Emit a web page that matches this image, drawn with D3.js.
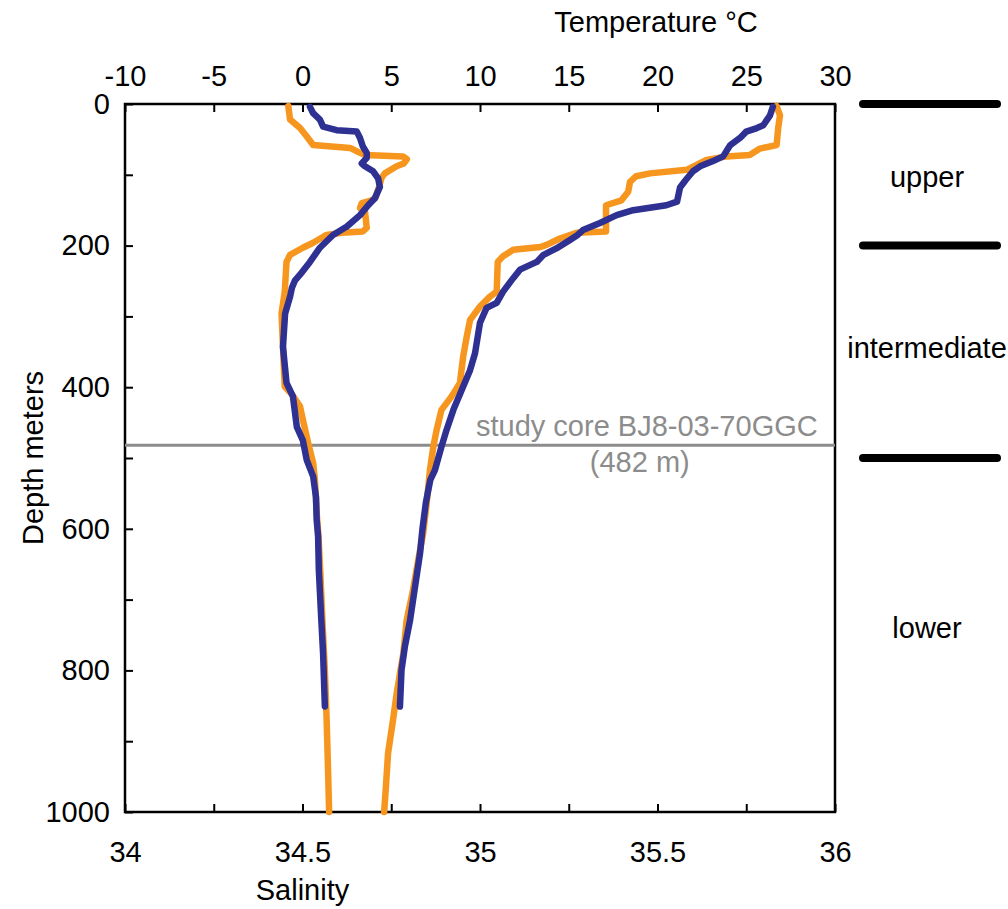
<!DOCTYPE html>
<meta charset="utf-8">
<style>
    body { margin: 0; background: #fff; }
    text { font-family: "Liberation Sans", Arial, sans-serif; }
    .axis text { font-size: 29px; fill: #000; }
    .axis line { stroke: #000; stroke-width: 2; }
    .axis path { display: none; }
    .profile { fill: none; stroke-width: 6.5; stroke-linejoin: round; stroke-linecap: round; }
    .label { font-size: 29px; fill: #000; }
    .core { font-size: 29px; fill: #8c8c8c; }
</style>
<body>
<script src="https://cdn.jsdelivr.net/npm/d3@7/dist/d3.min.js"></script>
<script>
    // [depth m, salinity]
    var salinityOrange = [[3, 34.460], [22, 34.465], [34, 34.493], [46, 34.512], [58, 34.530], [62, 34.634],
        [69, 34.662], [72, 34.676], [74, 34.783], [78, 34.794], [84, 34.785], [88, 34.765], [98, 34.732],
        [104, 34.723], [118, 34.715], [133, 34.705], [137, 34.690], [140, 34.667], [147, 34.662], [152, 34.676],
        [175, 34.681], [180, 34.670], [182, 34.611], [185, 34.567], [196, 34.530], [203, 34.501], [213, 34.465],
        [223, 34.455], [265, 34.450], [296, 34.441], [343, 34.445], [399, 34.450], [410, 34.470], [427, 34.493],
        [446, 34.501], [479, 34.516], [507, 34.530], [531, 34.535], [578, 34.540], [611, 34.545], [660, 34.550],
        [729, 34.556], [800, 34.563], [870, 34.568], [941, 34.572], [1000, 34.575]];
    var salinityBlue = [[4, 34.521], [13, 34.530], [22, 34.549], [32, 34.558], [37, 34.596], [39, 34.653],
        [48, 34.662], [60, 34.670], [69, 34.681], [76, 34.681], [84, 34.667], [88, 34.676], [95, 34.699],
        [105, 34.713], [117, 34.718], [133, 34.704], [143, 34.685], [157, 34.662], [173, 34.625], [185, 34.586],
        [203, 34.549], [223, 34.521], [241, 34.493], [249, 34.479], [260, 34.470], [272, 34.465], [296, 34.451],
        [343, 34.445], [394, 34.455], [413, 34.473], [456, 34.484], [475, 34.501], [503, 34.512], [526, 34.530],
        [555, 34.538], [588, 34.540], [611, 34.544], [658, 34.546], [729, 34.553], [776, 34.558], [851, 34.563]];

    // [depth m, temperature °C]
    var tempOrange = [[3, 26.71], [16, 26.9], [34, 26.8], [58, 26.71], [63, 25.77], [72, 25.2], [74, 23.9],
        [79, 22.76], [86, 22.2], [93, 21.64], [98, 19.58], [102, 18.8], [110, 18.45], [124, 18.35], [136, 17.97],
        [143, 17.1], [180, 17.1], [182, 15.44], [190, 14.5], [199, 13.75], [202, 13.4], [206, 11.87], [215, 11.3],
        [223, 11.0], [265, 10.94], [272, 10.56], [286, 10.0], [305, 9.44], [329, 9.25], [357, 9.05], [394, 8.87],
        [413, 8.4], [432, 7.83], [460, 7.56], [484, 7.37], [517, 7.18], [563, 7.0], [606, 6.8], [640, 6.55],
        [690, 6.2], [729, 5.87], [776, 5.68], [832, 5.31], [870, 5.1], [917, 4.82], [964, 4.7], [1000, 4.6]];
    var tempBlue = [[4, 26.5], [16, 26.34], [30, 25.96], [34, 25.6], [39, 25.0], [48, 24.65], [58, 24.1],
        [74, 23.7], [81, 23.1], [88, 22.4], [95, 22.0], [107, 21.6], [118, 21.27], [138, 21.1], [143, 20.5],
        [150, 18.63], [157, 17.7], [168, 16.76], [178, 15.8], [185, 15.5], [192, 15.07], [204, 14.3], [213, 13.58],
        [223, 13.2], [234, 12.25], [246, 11.87], [265, 11.3], [281, 10.94], [288, 10.37], [309, 10.0], [352, 9.72],
        [376, 9.44], [404, 8.97], [432, 8.5], [460, 8.12], [484, 7.83], [517, 7.46], [531, 7.2], [563, 6.95],
        [602, 6.75], [635, 6.62], [682, 6.34], [729, 6.06], [766, 5.77], [799, 5.58], [851, 5.49]];

    var tempTicks = [-10, -5, 0, 5, 10, 15, 20, 25, 30];
    var salTicks = [34, 34.25, 34.5, 34.75, 35, 35.25, 35.5, 35.75, 36];
    var salLabels = [34, 34.5, 35, 35.5, 36];
    var depthTicks = [0, 100, 200, 300, 400, 500, 600, 700, 800, 900, 1000];
    var depthLabels = [0, 200, 400, 600, 800, 1000];

    var zoneBounds = [0, 200, 500];
    var zoneNames = ["upper", "intermediate", "lower"];
    var zoneLabelDepth = [117, 359, 754];
    var coreDepth = 482;

    var margin = {top: 104, left: 125},
        width = 710, height = 708;

    var svg = d3.select("body").append("svg")
        .attr("width", 1008)
        .attr("height", 909);

    var g = svg.append("g")
        .attr("transform", "translate(" + margin.left + "," + margin.top + ")");

    var y = d3.scaleLinear().domain([0, 1000]).range([0, height]);
    var xTemp = d3.scaleLinear().domain([-10, 30]).range([0, width]);
    var xSal = d3.scaleLinear().domain([34, 36]).range([0, width]);

    // axes, ticks pointing inward, plain hyphen for negatives
    g.append("g").attr("class", "axis")
        .call(d3.axisTop(xTemp).tickValues(tempTicks).tickSize(-8).tickPadding(18)
            .tickFormat(function(d) { return String(d); }));

    g.append("g").attr("class", "axis")
        .attr("transform", "translate(0," + height + ")")
        .call(d3.axisBottom(xSal).tickValues(salTicks).tickSize(-8).tickPadding(29)
            .tickFormat(function(d) { return salLabels.indexOf(d) >= 0 ? String(d) : ""; }));

    g.append("g").attr("class", "axis")
        .call(d3.axisLeft(y).tickValues(depthTicks).tickSize(-8).tickPadding(15)
            .tickFormat(function(d) { return depthLabels.indexOf(d) >= 0 ? d : ""; }));

    g.append("rect")
        .attr("width", width).attr("height", height)
        .attr("fill", "none").attr("stroke", "#000").attr("stroke-width", 2.5);

    // core depth line
    g.append("line")
        .attr("x1", 0).attr("x2", width)
        .attr("y1", y(coreDepth)).attr("y2", y(coreDepth))
        .attr("stroke", "#8c8c8c").attr("stroke-width", 3);

    g.append("text").attr("class", "core")
        .attr("x", xTemp(19.4)).attr("y", y(coreDepth) - 9)
        .attr("text-anchor", "middle")
        .text("study core BJ8-03-70GGC");
    g.append("text").attr("class", "core")
        .attr("x", xTemp(19.0)).attr("y", y(coreDepth) + 27)
        .attr("text-anchor", "middle")
        .text("(" + coreDepth + " m)");

    var salLine = d3.line().x(function(d) { return xSal(d[1]); }).y(function(d) { return y(d[0]); });
    var tempLine = d3.line().x(function(d) { return xTemp(d[1]); }).y(function(d) { return y(d[0]); });

    g.append("path").datum(salinityOrange).attr("class", "profile").attr("stroke", "#f7961e").attr("d", salLine);
    g.append("path").datum(tempOrange).attr("class", "profile").attr("stroke", "#f7961e").attr("d", tempLine);
    g.append("path").datum(salinityBlue).attr("class", "profile").attr("stroke", "#2e3192").attr("d", salLine);
    g.append("path").datum(tempBlue).attr("class", "profile").attr("stroke", "#2e3192").attr("d", tempLine);

    // axis titles
    svg.append("text").attr("class", "label")
        .attr("x", 656).attr("y", 32)
        .attr("text-anchor", "middle")
        .text("Temperature °C");
    svg.append("text").attr("class", "label")
        .attr("x", margin.left + xSal(34.5)).attr("y", 900)
        .attr("text-anchor", "middle")
        .text("Salinity");
    svg.append("text").attr("class", "label")
        .attr("transform", "translate(43," + (margin.top + height / 2) + ") rotate(-90)")
        .attr("text-anchor", "middle")
        .text("Depth meters");

    // water mass zones at right
    var zx = margin.left + width + 28, zw = 134;
    svg.selectAll(".zone")
        .data(zoneBounds).enter().append("line")
        .attr("class", "zone")
        .attr("x1", zx).attr("x2", zx + zw)
        .attr("y1", function(d) { return margin.top + y(d); })
        .attr("y2", function(d) { return margin.top + y(d); })
        .attr("stroke", "#000").attr("stroke-width", 8).attr("stroke-linecap", "round");

    svg.selectAll(".zonelabel")
        .data(zoneNames).enter().append("text")
        .attr("class", "label")
        .attr("x", zx + zw / 2 - 3)
        .attr("y", function(d, i) { return margin.top + y(zoneLabelDepth[i]); })
        .attr("text-anchor", "middle")
        .text(function(d) { return d; });
</script>
</body>
</html>
